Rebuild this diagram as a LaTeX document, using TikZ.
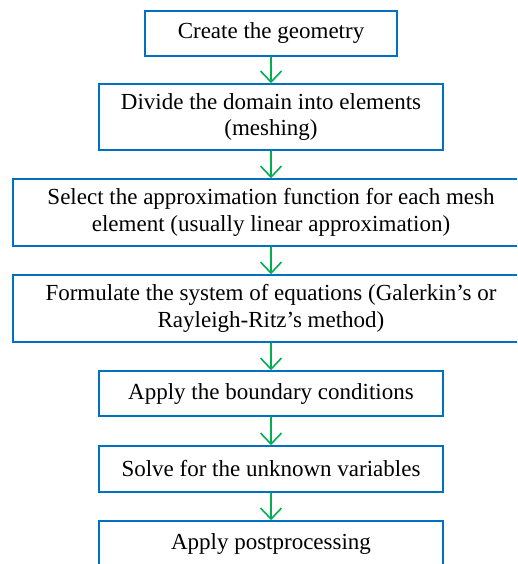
\documentclass[tikz,border=0pt]{standalone}
\usepackage{fontspec}
\setmainfont{Liberation Serif}
\usetikzlibrary{arrows.meta}
\definecolor{boxblue}{RGB}{0,112,192}
\definecolor{arrgreen}{RGB}{0,176,80}
\begin{document}
\begin{tikzpicture}[x=1pt,y=-1pt,
  stepbox/.style={draw=boxblue, line width=1.6pt, rectangle, align=center,
    inner sep=0pt, font=\fontsize{23}{26.5}\selectfont},
  flow/.style={draw=arrgreen, line width=1.6pt, -{Straight Barb[length=11pt,width=21pt,line width=1.6pt]}}]
\useasboundingbox (0,0) rectangle (517,564);
\clip (0,0) rectangle (517,564);
\node[stepbox, minimum width=252pt, minimum height=45pt] (n1) at (271,33.5) {Create the geometry};
\node[stepbox, minimum width=344pt, minimum height=66pt] (n2) at (271,117) {Divide the domain into elements\\(meshing)};
\node[stepbox, minimum width=516pt, minimum height=67pt] (n3) at (271,212.5) {Select the approximation function for each mesh\\element (usually linear approximation)};
\node[stepbox, minimum width=516pt, minimum height=67pt] (n4) at (271,308.5) {Formulate the system of equations (Galerkin’s or\\Rayleigh-Ritz’s method)};
\node[stepbox, minimum width=344pt, minimum height=45pt] (n5) at (271,393.5) {Apply the boundary conditions};
\node[stepbox, minimum width=344pt, minimum height=46pt] (n6) at (271,469) {Solve for the unknown variables};
\node[stepbox, minimum width=344pt, minimum height=45pt] (n7) at (271,543.5) {Apply postprocessing};
\draw[flow] (n1) -- (n2);
\draw[flow] (n2) -- (n3);
\draw[flow] (n3) -- (n4);
\draw[flow] (n4) -- (n5);
\draw[flow] (n5) -- (n6);
\draw[flow] (n6) -- (n7);
\end{tikzpicture}
\end{document}
